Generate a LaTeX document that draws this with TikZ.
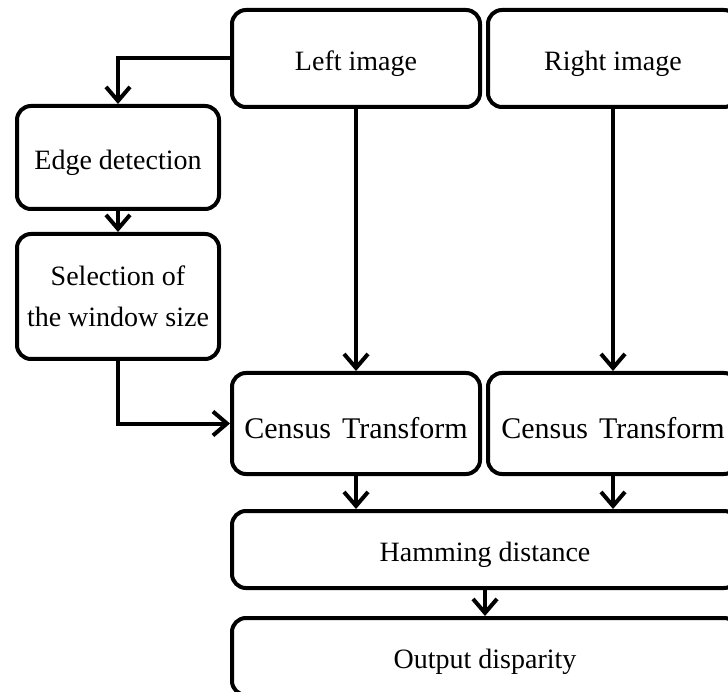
\documentclass[tikz,border=0pt]{standalone}
\usepackage{fontspec}
\setmainfont{Liberation Serif}
\usetikzlibrary{arrows.meta}
\newcommand{\lowtxt}[1]{\raisebox{-5pt}[\height][\depth]{#1}}
\tikzset{
  box/.style={draw=black, line width=4pt, rounded corners=14pt, inner sep=0pt,
    font=\fontsize{28}{41}\selectfont, align=center, fill=white},
  conn/.style={line width=4pt, -{Straight Barb[length=14pt,width=24pt,line width=4pt]}},
  tnr/.style={font=\fontsize{30}{34}\selectfont}
}
\begin{document}
\begin{tikzpicture}[x=1pt,y=-1pt]
\useasboundingbox (0,0) rectangle (728,692);
\node[box, minimum width=248pt, minimum height=97pt] (left) at (356,58.5) {\lowtxt{Left image}};
\node[box, minimum width=250pt, minimum height=97pt] (right) at (613,58.5) {\lowtxt{Right image}};
\node[box, minimum width=202pt, minimum height=103pt] (edge) at (118,157.5) {\lowtxt{Edge detection}};
\node[box, minimum width=202pt, minimum height=125pt] (sel) at (118,296.5) {Selection of\\the window size};
\node[box, tnr, minimum width=248pt, minimum height=101pt] (cl) at (356,423.5) {\lowtxt{Census\hspace{11pt}Transform}};
\node[box, tnr, minimum width=250pt, minimum height=101pt] (cr) at (613,423.5) {\lowtxt{Census\hspace{11pt}Transform}};
\node[box, minimum width=506pt, minimum height=77pt] (ham) at (485,549.5) {\lowtxt{Hamming distance}};
\node[box, minimum width=506pt, minimum height=77pt] (out) at (485,656.5) {\lowtxt{Output disparity}};
\draw[conn] (left.west) -| (edge.north);
\draw[conn] (edge.south) -- (sel.north);
\draw[conn] (sel.south) |- (cl.west);
\draw[conn] (left.south) -- (cl.north);
\draw[conn] (right.south) -- (cr.north);
\draw[conn] (cl.south) -- (cl.south |- ham.north);
\draw[conn] (cr.south) -- (cr.south |- ham.north);
\draw[conn] (ham.south) -- (out.north);
\end{tikzpicture}
\end{document}
